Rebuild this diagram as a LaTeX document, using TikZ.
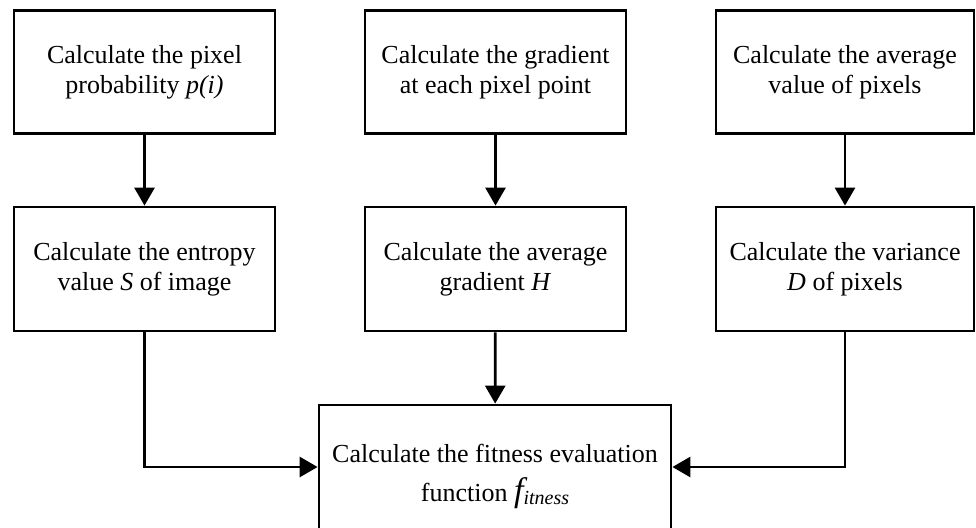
\documentclass[tikz,border=0pt]{standalone}
\usepackage{fontspec}
\setmainfont{Liberation Serif}
\usetikzlibrary{arrows.meta}
\begin{document}
\begin{tikzpicture}[x=1pt,y=-1pt,
  box/.style={draw,line width=2.8pt,minimum width=261pt,minimum height=123pt,align=center,inner sep=0pt,font=\fontsize{26}{30}\selectfont},
  txt/.style={align=center,inner sep=0pt,font=\fontsize{26}{30}\selectfont},
  arr/.style={line width=2.8pt,-{Triangle[width=20pt,length=18pt]}}]
\useasboundingbox (0,0) rectangle (976,527);
\clip (0,0) rectangle (976,527);
\node[box] (a1) at (144.5,72) {Calculate the pixel\\probability \textit{p(i)}};
\node[box] (a2) at (495.5,72) {Calculate the gradient\\at each pixel point};
\node[box,minimum width=258pt] (a3) at (845,72) {Calculate the average\\value of pixels};
\node[box,minimum height=124pt] (b1) at (144.5,269) {Calculate the entropy\\value \textit{S} of image};
\node[box,minimum height=124pt] (b2) at (495.5,269) {Calculate the average\\gradient \textit{H}};
\node[box,minimum width=258pt,minimum height=124pt] (b3) at (845,269) {Calculate the variance\\\textit{D} of pixels};
\node[box,minimum width=352pt,minimum height=124pt] (c) at (495,467) {};
\node[txt] (ct) at (495,476) {Calculate the fitness evaluation\\[9pt]function {\fontsize{34}{34}\selectfont\itshape f}\raisebox{-3pt}{\fontsize{20}{20}\selectfont\itshape itness}};
\draw[arr] (a1) -- (b1);
\draw[arr] (a2) -- (b2);
\draw[arr] (a3) -- (b3);
\draw[arr] (b2) -- (c);
\draw[arr] (b1.south) |- (c.west);
\draw[arr] (b3.south) |- (c.east);
\end{tikzpicture}
\end{document}
